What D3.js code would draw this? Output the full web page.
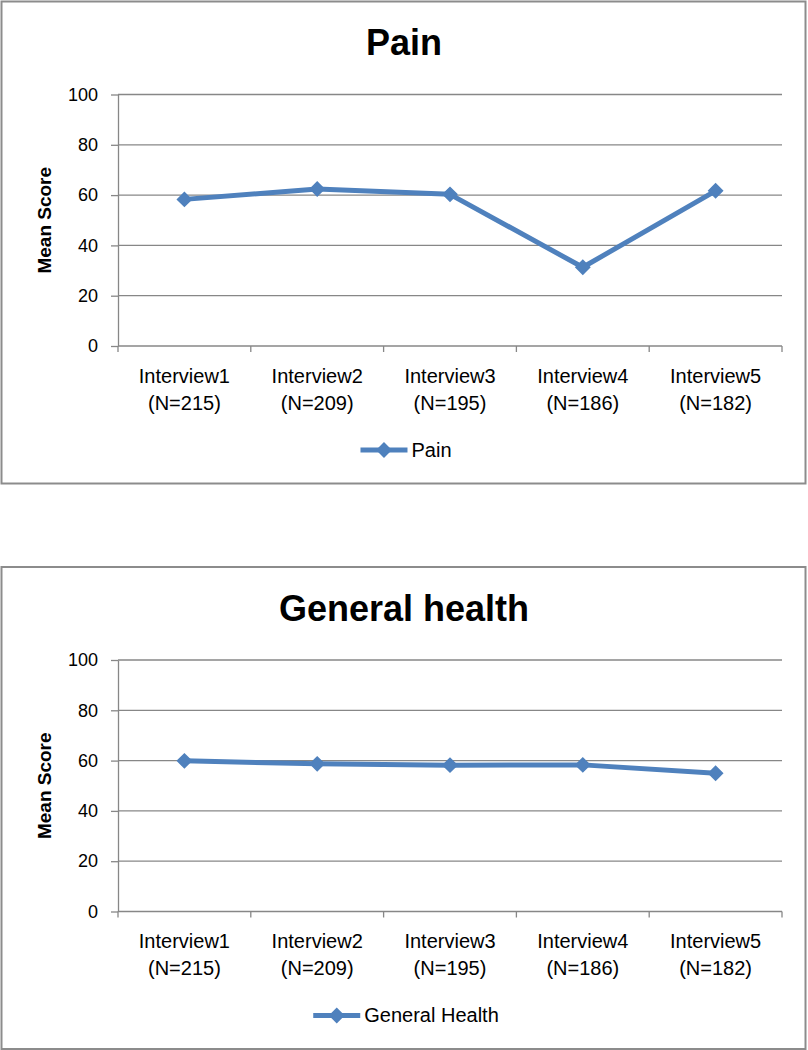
<!DOCTYPE html>
<html>
<head>
<meta charset="utf-8">
<script src="https://cdn.jsdelivr.net/npm/d3@7"></script>
<style>
  html, body { margin: 0; padding: 0; background: #fff; }
  svg { display: block; }
  text { font-family: "Liberation Sans", Arial, sans-serif; fill: #000; }
</style>
</head>
<body>
<svg id="chart" width="808" height="1050"></svg>
<script>
// ---- data ----
const categories = ["Interview1", "Interview2", "Interview3", "Interview4", "Interview5"];
const sampleSizes = ["(N=215)", "(N=209)", "(N=195)", "(N=186)", "(N=182)"];
const painValues = [58.3, 62.4, 60.3, 31.3, 61.7];
const generalHealthValues = [59.9, 58.7, 58.2, 58.3, 55.0];
const yTicks = [0, 20, 40, 60, 80, 100];
const chartTitles = ["Pain", "General health"];
const legendLabels = ["Pain", "General Health"];
const yAxisLabel = "Mean Score";

// ---- style ----
const lineColor = "#4F81BD";
const gridColor = "#878787";
const frameColor = "#8c8c8c";

const svg = d3.select("#chart");

function drawChart(offsetY, title, values, legendLabel) {
  const g = svg.append("g").attr("transform", `translate(0,${offsetY})`);
  const left = 118, right = 782, top = 94.5, bottom = 346;

  // frame
  g.append("rect")
    .attr("x", 1.5).attr("y", 1.5)
    .attr("width", 804).attr("height", 482)
    .attr("fill", "#fff")
    .attr("stroke", frameColor).attr("stroke-width", 2);

  // title
  g.append("text")
    .attr("x", 404).attr("y", 55)
    .attr("text-anchor", "middle")
    .style("font-size", "36px").style("font-weight", "bold")
    .text(title);

  const x = d3.scaleBand().domain(categories).range([left, right]);
  const y = d3.scaleLinear().domain([0, 100]).range([bottom, top]);
  const xEdges = d3.scaleLinear().domain([0, categories.length]).range([left, right]);

  // gridlines
  g.append("g").selectAll("line.grid")
    .data(yTicks.filter(t => t > 0))
    .join("line")
    .attr("x1", left).attr("x2", right)
    .attr("y1", d => y(d)).attr("y2", d => y(d))
    .attr("stroke", gridColor).attr("stroke-width", 1.3);

  // y axis
  const yAxis = g.append("g")
    .attr("transform", `translate(${left},0)`)
    .call(d3.axisLeft(y).tickValues(yTicks).tickSize(7).tickPadding(13).tickSizeOuter(0));
  yAxis.select(".domain").attr("stroke", gridColor).attr("stroke-width", 1.3);
  yAxis.selectAll(".tick line").attr("stroke", gridColor).attr("stroke-width", 1.3);
  yAxis.selectAll(".tick text")
    .style("font-family", '"Liberation Sans", Arial, sans-serif')
    .style("font-size", "18px").attr("fill", "#000");

  // x axis baseline and boundary ticks
  const xAxis = g.append("g").attr("transform", `translate(0,${bottom})`);
  xAxis.append("line")
    .attr("x1", left).attr("x2", right)
    .attr("stroke", gridColor).attr("stroke-width", 1.3);
  xAxis.selectAll("line.tk")
    .data(d3.range(categories.length + 1))
    .join("line")
    .attr("class", "tk")
    .attr("x1", d => xEdges(d)).attr("x2", d => xEdges(d))
    .attr("y1", 0).attr("y2", 6)
    .attr("stroke", gridColor).attr("stroke-width", 1.3);

  const lbl = xAxis.selectAll("text.cat")
    .data(categories)
    .join("text")
    .attr("class", "cat")
    .attr("text-anchor", "middle")
    .style("font-size", "20px");
  lbl.append("tspan")
    .attr("x", d => x(d) + x.bandwidth() / 2).attr("y", 36.7)
    .text(d => d);
  lbl.append("tspan")
    .attr("x", d => x(d) + x.bandwidth() / 2).attr("y", 63.5)
    .text((d, i) => sampleSizes[i]);

  // y axis title
  g.append("text")
    .attr("transform", `translate(51,${(top + bottom) / 2}) rotate(-90)`)
    .attr("text-anchor", "middle")
    .style("font-size", "19px").style("font-weight", "bold")
    .text(yAxisLabel);

  // series line
  const line = d3.line()
    .x((d, i) => x(categories[i]) + x.bandwidth() / 2)
    .y(d => y(d));
  g.append("path")
    .datum(values)
    .attr("d", line)
    .attr("fill", "none")
    .attr("stroke", lineColor)
    .attr("stroke-width", 5)
    .attr("stroke-linejoin", "round");

  const diamond = d3.symbol().type(d3.symbolSquare).size(95);
  g.selectAll("path.marker")
    .data(values)
    .join("path")
    .attr("class", "marker")
    .attr("d", diamond)
    .attr("transform", (d, i) => `translate(${x(categories[i]) + x.bandwidth() / 2},${y(d)}) rotate(45)`)
    .attr("fill", lineColor)
    .attr("stroke", lineColor)
    .attr("stroke-width", 1.5);

  // legend
  const leg = g.append("g");
  const legText = leg.append("text")
    .attr("x", 51).attr("y", 456.5)
    .style("font-size", "20px")
    .text(legendLabel);
  const tw = legText.node().getComputedTextLength();
  leg.append("line")
    .attr("x1", 0).attr("x2", 47)
    .attr("y1", 450).attr("y2", 450)
    .attr("stroke", lineColor).attr("stroke-width", 5);
  leg.append("path")
    .attr("d", diamond)
    .attr("transform", "translate(23.5,450) rotate(45)")
    .attr("fill", lineColor).attr("stroke", lineColor).attr("stroke-width", 1.5);
  const totalW = 51 + tw;
  leg.attr("transform", `translate(${406 - totalW / 2},0)`);
}

drawChart(0, chartTitles[0], painValues, legendLabels[0]);
drawChart(565.5, chartTitles[1], generalHealthValues, legendLabels[1]);
</script>
</body>
</html>
